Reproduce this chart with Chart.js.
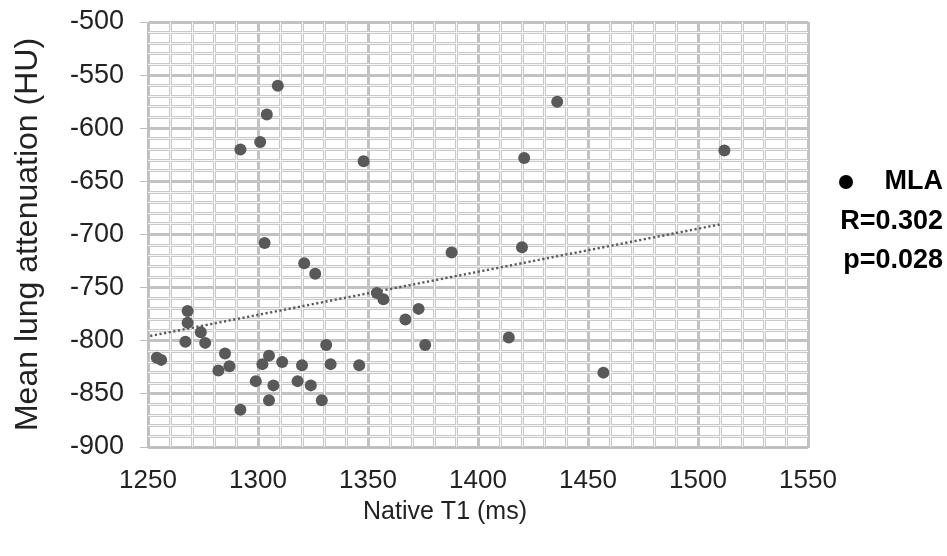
<!DOCTYPE html>
<html>
<head>
<meta charset="utf-8">
<script src="https://cdn.jsdelivr.net/npm/chart.js@4.4.1/dist/chart.umd.min.js"></script>
<style>
    body { margin: 0; background: #fff; }
</style>
</head>
<body>
<canvas id="mlaChart" width="947" height="556"></canvas>
<script>
// --- dados ---
const nativeT1 = [1309, 1304, 1301, 1292, 1348, 1303, 1321, 1326, 1354, 1357,
    1268, 1268, 1274, 1267, 1276, 1254, 1256, 1285, 1287, 1282,
    1305, 1302, 1311, 1320, 1331, 1333, 1346, 1299, 1307, 1318,
    1324, 1305, 1329, 1292, 1388, 1420, 1373, 1367, 1376, 1414,
    1457, 1436, 1421, 1512];
const meanLungAtt = [-560, -587, -613, -620, -631, -708, -727, -737, -755, -761,
    -772, -783, -792, -801, -802, -816, -818, -812, -824, -828,
    -814, -822, -820, -823, -804, -822, -823, -838, -842, -838,
    -842, -856, -856, -865, -717, -712, -770, -780, -804, -797,
    -830, -575, -628, -621];
const trendX = [1251, 1510];
const trendY = [-795.5, -690.5];
const legendLines = ['MLA', 'R=0.302', 'p=0.028'];
const xTitle = 'Native T1 (ms)';
const yTitle = 'Mean lung attenuation (HU)';
const xRange = [1250, 1550];
const yRange = [-900, -500];

const FONT = "'Liberation Sans', Arial, sans-serif";
const pointColor = '#595959';
const isMajor = (c) => c.tick && c.tick.value % 50 === 0;

// linhas secundárias da grade com o centro claro (efeito de linha dupla)
const gridCenterPlugin = {
    id: 'gridCenter',
    beforeDatasetsDraw(chart) {
        const c = chart.ctx;
        const a = chart.chartArea;
        c.save();
        c.strokeStyle = '#f6f6f6';
        c.lineWidth = 1;
        c.beginPath();
        chart.scales.x.ticks.forEach((t) => {
            if (t.value % 50 === 0) return;
            const px = Math.round(chart.scales.x.getPixelForValue(t.value) - 1.5) + 1.5;
            c.moveTo(px, a.top);
            c.lineTo(px, a.bottom);
        });
        chart.scales.y.ticks.forEach((t) => {
            if (t.value % 50 === 0) return;
            const py = Math.round(chart.scales.y.getPixelForValue(t.value) - 1.5) + 1.5;
            c.moveTo(a.left, py);
            c.lineTo(a.right, py);
        });
        c.stroke();
        c.restore();
    }
};

const legendPlugin = {
    id: 'sideLegend',
    afterDraw(chart) {
        const c = chart.ctx;
        c.save();
        c.fillStyle = '#000';
        c.beginPath();
        c.arc(846, 182, 7, 0, Math.PI * 2);
        c.fill();
        c.font = 'bold 27px ' + FONT;
        c.textAlign = 'right';
        c.textBaseline = 'middle';
        c.fillText(legendLines[0], 943, 182);
        c.fillText(legendLines[1], 943, 222);
        c.fillText(legendLines[2], 943, 261);
        // título do eixo X (deslocado para a esquerda como no original)
        c.fillStyle = '#222';
        c.font = '25px ' + FONT;
        c.textAlign = 'center';
        c.fillText(xTitle, 445, 512);
        c.restore();
    }
};

const ctx = document.getElementById('mlaChart');

new Chart(ctx, {
    type: 'scatter',
    data: {
        datasets: [
            {
                label: 'MLA',
                data: nativeT1.map((x, i) => ({ x: x, y: meanLungAtt[i] })),
                backgroundColor: pointColor,
                borderColor: pointColor,
                pointRadius: 6,
                pointBorderWidth: 0,
            },
            {
                label: 'Tendência',
                data: trendX.map((x, i) => ({ x: x, y: trendY[i] })),
                showLine: true,
                borderColor: pointColor,
                borderWidth: 2.4,
                borderDash: [2.2, 2.5],
                pointRadius: 0,
                fill: false,
            }
        ]
    },
    options: {
        responsive: false,
        animation: false,
        events: [],
        layout: {
            padding: { top: 22, right: 139, bottom: 0, left: 0 }
        },
        plugins: {
            legend: { display: false },
            tooltip: { enabled: false }
        },
        scales: {
            x: {
                type: 'linear',
                min: xRange[0],
                max: xRange[1],
                afterFit(scale) {
                    scale.height = 109;
                    scale.paddingLeft = 0;
                    scale.paddingRight = 0;
                },
                border: { color: '#bdbdbd', width: 1 },
                grid: {
                    color: (c) => isMajor(c) ? '#c2c2c2' : '#c9c9c9',
                    lineWidth: 3,
                    drawTicks: false,
                },
                ticks: {
                    stepSize: 10,
                    autoSkip: false,
                    maxTicksLimit: 100,
                    maxRotation: 0,
                    padding: 18,
                    color: '#222',
                    font: { family: FONT, size: 26 },
                    callback: (v) => v % 50 === 0 ? v : ''
                },
                title: { display: false }
            },
            y: {
                min: yRange[0],
                max: yRange[1],
                afterFit(scale) {
                    scale.width = 148;
                    scale.paddingTop = 0;
                    scale.paddingBottom = 0;
                },
                border: { color: '#bdbdbd', width: 1 },
                grid: {
                    color: (c) => isMajor(c) ? '#c2c2c2' : '#c9c9c9',
                    lineWidth: 3,
                    tickColor: (c) => isMajor(c) ? '#bdbdbd' : 'rgba(0,0,0,0)',
                    tickWidth: 1,
                    tickLength: 8,
                },
                ticks: {
                    stepSize: 10,
                    autoSkip: false,
                    maxTicksLimit: 100,
                    padding: 16,
                    color: '#222',
                    font: { family: FONT, size: 27 },
                    callback: (v) => v % 50 === 0 ? v : ''
                },
                title: {
                    display: true,
                    text: yTitle,
                    color: '#222',
                    font: { family: FONT, size: 32 },
                    padding: { top: 9, bottom: 0 }
                }
            }
        }
    },
    plugins: [gridCenterPlugin, legendPlugin]
});
</script>
</body>
</html>
